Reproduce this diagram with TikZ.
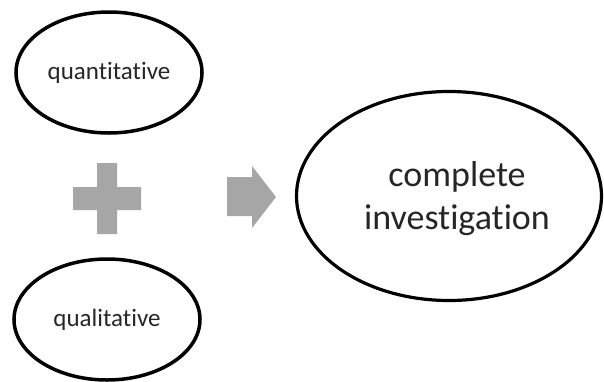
\documentclass[tikz,border=0pt]{standalone}
\usepackage{fontspec}
\setmainfont{Carlito}[Ligatures={NoCommon}]
\usetikzlibrary{shapes.geometric}
\definecolor{shapegray}{RGB}{166,166,166}
\definecolor{textdark}{RGB}{38,38,38}
\tikzset{
  smallell/.style={ellipse, draw=black, line width=3.5pt, inner sep=0pt,
    minimum width=186pt, minimum height=121pt, text=textdark,
    font=\fontsize{25}{30}\selectfont},
  bigell/.style={ellipse, draw=black, line width=3.2pt, inner sep=0pt,
    minimum width=305pt, minimum height=209pt},
  bigtext/.style={text=textdark, align=center, inner sep=0pt,
    font=\fontsize{36}{43}\selectfont},
  grayshape/.style={fill=shapegray, draw=none}
}
\begin{document}
\begin{tikzpicture}[x=1pt,y=-1pt]
\useasboundingbox (0,0) rectangle (604,381);
\node[smallell] (quant) at (109,72.5) {quantitative};
\node[smallell] (qual) at (107,319.5) {qualitative};
\node[bigell] (complete) at (449,196) {};
\node[bigtext] (completetext) at ([shift={(8,3)}]complete.center) {complete\\investigation};
% plus sign
\fill[grayshape] (97,163) -- (117,163) -- (117,187) -- (141,187) -- (141,210)
  -- (117,210) -- (117,234) -- (97,234) -- (97,210) -- (73,210) -- (73,187)
  -- (97,187) -- cycle;
% block arrow
\fill[grayshape] (227,177) -- (252,177) -- (252,166) -- (276,197) -- (252,228)
  -- (252,216) -- (227,216) -- cycle;
\end{tikzpicture}
\end{document}
